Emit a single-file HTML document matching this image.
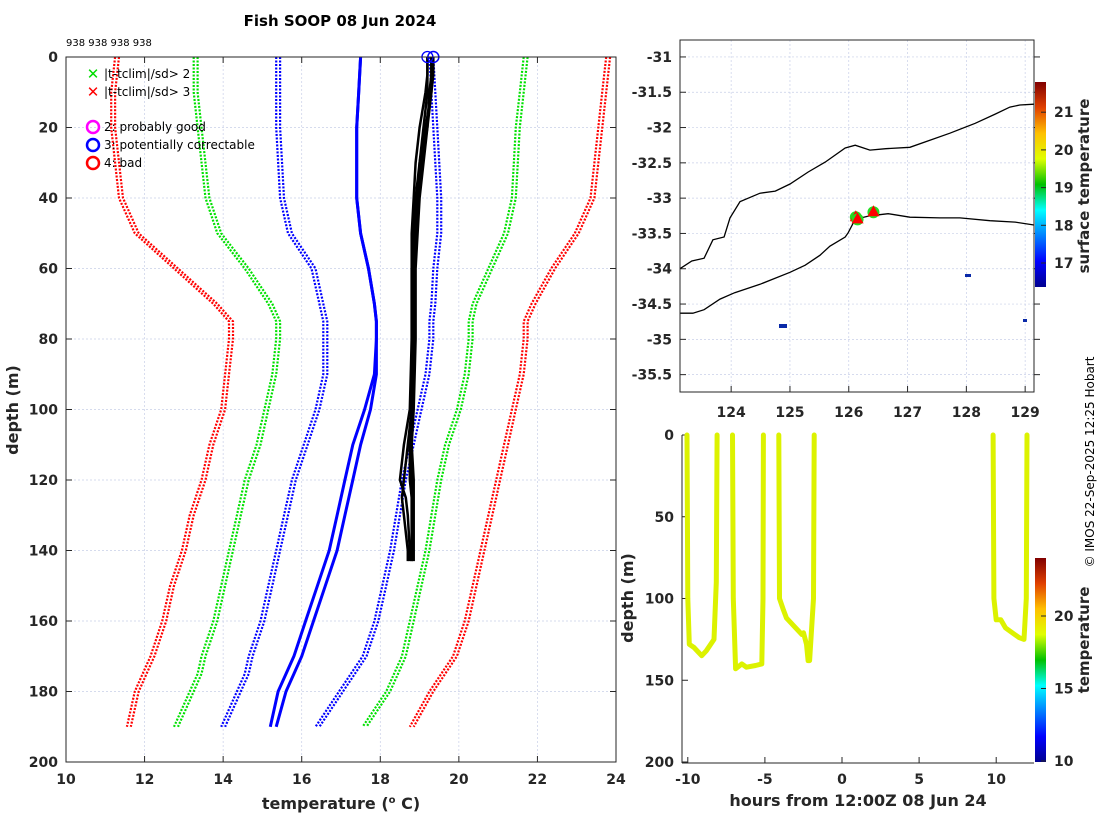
<!DOCTYPE html>
<html><head><meta charset="utf-8">
<style>
html,body{margin:0;padding:0;background:#fff;}
svg{display:block;font-family:"DejaVu Sans","Liberation Sans",sans-serif;}
.tk{font-size:14px;font-weight:bold;fill:#262626;}
.grid{stroke:#c8cfe8;stroke-width:0.7;stroke-dasharray:2,2;}
</style></head>
<body>
<svg id="s" width="1100" height="820" xmlns="http://www.w3.org/2000/svg">
<defs>
<linearGradient id="jet" x1="0" y1="1" x2="0" y2="0">
<stop offset="0" stop-color="#00008f"/><stop offset="0.125" stop-color="#0000ff"/><stop offset="0.375" stop-color="#00ffff"/><stop offset="0.5" stop-color="#00c000"/><stop offset="0.625" stop-color="#e0ff00"/><stop offset="0.75" stop-color="#ffc000"/><stop offset="0.875" stop-color="#e04000"/><stop offset="1" stop-color="#800000"/>
</linearGradient>
</defs>
<text x="340" y="26" text-anchor="middle" font-size="15" font-weight="bold" fill="#000">Fish SOOP 08 Jun 2024</text>
<text x="66" y="46" font-size="10" fill="#000">938 938 938 938</text>
<g id="left"></g>
<g id="map"></g>
<g id="time"></g>
<text transform="translate(1094,462) rotate(-90)" text-anchor="middle" font-size="12" fill="#000">© IMOS 22-Sep-2025 12:25 Hobart</text>
</svg>
<script>
// ---- profile plot data ----
const tempTicks=[10,12,14,16,18,20,22,24];
const depthTicks=[0,20,40,60,80,100,120,140,160,180,200];
const climDepths=[0,10,20,40,50,60,70,75,80,90,100,110,120,130,140,150,160,170,175,180,190];
const redLeft=[11.3,11.2,11.2,11.4,11.8,12.8,13.8,14.2,14.2,14.1,14.0,13.7,13.5,13.2,13.0,12.7,12.5,12.2,12.0,11.8,11.6];
const greenLeft=[13.3,13.3,13.4,13.6,13.9,14.6,15.2,15.4,15.4,15.3,15.1,14.9,14.6,14.4,14.2,14.0,13.8,13.5,13.4,13.2,12.8];
const blueLeft=[15.4,15.4,15.4,15.5,15.7,16.3,16.5,16.6,16.6,16.6,16.4,16.1,15.8,15.6,15.4,15.2,15.0,14.7,14.6,14.4,14.0];
const blueMeanA=[17.5,17.45,17.4,17.4,17.5,17.7,17.85,17.9,17.9,17.85,17.6,17.3,17.1,16.9,16.7,16.4,16.1,15.8,15.6,15.4,15.2];
const blueMeanB=[17.5,17.45,17.4,17.4,17.5,17.7,17.85,17.9,17.9,17.9,17.75,17.5,17.3,17.1,16.9,16.6,16.3,16.0,15.8,15.6,15.35];
const blueRight=[19.3,19.35,19.4,19.5,19.5,19.4,19.35,19.3,19.3,19.2,19.0,18.8,18.6,18.45,18.3,18.1,17.9,17.6,17.3,17.0,16.4];
const greenRight=[21.7,21.6,21.5,21.4,21.2,20.8,20.4,20.3,20.3,20.2,20.0,19.7,19.5,19.35,19.2,19.0,18.8,18.6,18.4,18.2,17.6];
const redRight=[23.8,23.7,23.6,23.4,23.0,22.4,21.9,21.7,21.7,21.6,21.4,21.2,21.0,20.8,20.6,20.4,20.2,19.9,19.6,19.3,18.8];
const obsDepths=[0,5,10,20,30,40,50,60,80,100,110,120,125,130,140,143];
const obs1=[19.2,19.2,19.2,19.1,19.0,18.9,18.85,18.8,18.8,18.8,18.75,18.75,18.8,18.8,18.8,18.8];
const obs2=[19.3,19.3,19.3,19.15,19.0,18.95,18.9,18.85,18.85,18.8,18.8,18.85,18.85,18.85,18.85,18.85];
const obs3=[19.35,19.35,19.3,19.2,19.1,19.0,18.95,18.9,18.9,18.85,18.8,18.8,18.8,18.8,18.8,18.8];
const obs4=[19.2,19.2,19.15,19.0,18.9,18.85,18.8,18.8,18.8,18.75,18.6,18.5,18.65,18.7,18.75,18.75];
const obs5=[19.3,19.3,19.25,19.2,19.05,18.95,18.9,18.85,18.85,18.8,18.7,18.6,18.55,18.6,18.7,18.7];
// ---- map data ----
const lonTicks=[124,125,126,127,128,129];
const latTicks=[-31,-31.5,-32,-32.5,-33,-33.5,-34,-34.5,-35,-35.5];
const upperLon=[123.13,123.33,123.54,123.69,123.88,123.98,124.15,124.49,124.75,125.0,125.31,125.6,125.94,126.11,126.36,126.63,127.04,127.38,127.72,128.15,128.49,128.74,128.91,129.15];
const upperLat=[-34.0,-33.89,-33.85,-33.59,-33.55,-33.28,-33.05,-32.93,-32.9,-32.8,-32.63,-32.49,-32.29,-32.25,-32.32,-32.3,-32.28,-32.18,-32.08,-31.94,-31.81,-31.71,-31.68,-31.67];
const lowerLon=[123.13,123.35,123.54,123.81,124.06,124.49,125.0,125.26,125.51,125.68,125.94,125.99,126.11,126.36,126.67,127.04,127.55,127.89,128.4,128.83,129.15];
const lowerLat=[-34.63,-34.63,-34.58,-34.43,-34.34,-34.22,-34.05,-33.95,-33.81,-33.68,-33.55,-33.49,-33.3,-33.25,-33.22,-33.27,-33.28,-33.28,-33.32,-33.34,-33.38];
const dropLon=[126.12,126.15,126.42];
const dropLat=[-33.27,-33.3,-33.2];
const cbMapTicks=[17,18,19,20,21];
// ---- time-depth data ----
const hourTicks=[-10,-5,0,5,10];
const tdTicks=[0,50,100,150,200];
const castHours=[
 [-10.05,-10.0,-9.9,-9.6,-9.1,-8.8,-8.3,-8.15,-8.1],
 [-7.1,-7.05,-6.9,-6.5,-6.2,-5.6,-5.2,-5.12,-5.1],
 [-4.1,-4.05,-3.8,-3.6,-3.0,-2.6,-2.5,-2.3,-2.2,-2.1,-1.85,-1.8],
 [9.8,9.85,10.0,10.3,10.6,11.2,11.5,11.8,11.95,12.0]];
const castDepths=[
 [0,100,128,130,135,132,125,90,0],
 [0,100,143,140,142,141,140,100,0],
 [0,100,107,112,118,122,121,128,138,138,100,0],
 [0,100,113,113,118,122,124,125,100,0]];
const cbTimeTicks=[10,15,20];

const NS='http://www.w3.org/2000/svg';
function mk(parent,tag,attrs){const e=document.createElementNS(NS,tag);for(const k in attrs)e.setAttribute(k,attrs[k]);parent.appendChild(e);return e;}
function txt(parent,x,y,s,anchor,cls){const t=mk(parent,'text',{x:x,y:y,'text-anchor':anchor||'middle','class':cls||'tk'});t.textContent=s;return t;}

// ===== Left profile plot =====
const L=document.getElementById('left');
const lx=t=>66+(t-10)*550/14, ly=d=>57+d*705/200;
tempTicks.forEach(t=>{
 if(t>10&&t<24){const g=mk(L,'line',{x1:lx(t),x2:lx(t),y1:57,y2:762,'class':'grid'});}
 const tl=txt(L,lx(t),784,t);
 mk(L,'line',{x1:lx(t),x2:lx(t),y1:762,y2:756,stroke:'#262626'});mk(L,'line',{x1:lx(t),x2:lx(t),y1:57,y2:63,stroke:'#262626'});
});
depthTicks.forEach(d=>{
 if(d>0&&d<200){const g=mk(L,'line',{x1:66,x2:616,y1:ly(d),y2:ly(d),'class':'grid'});}
 const tl=txt(L,58,ly(d)+5,d,'end');
 mk(L,'line',{x1:66,x2:72,y1:ly(d),y2:ly(d),stroke:'#262626'});mk(L,'line',{x1:616,x2:610,y1:ly(d),y2:ly(d),stroke:'#262626'});
});
function pline(g,ts,ds,stroke,w,dash,name){
 const p=ts.map((t,i)=>lx(t).toFixed(1)+','+ly(ds[i]).toFixed(1)).join(' ');
 const e=mk(g,'polyline',{points:p,fill:'none',stroke:stroke,'stroke-width':w,'stroke-linejoin':'round'});
 if(dash)e.setAttribute('stroke-dasharray',dash);
 
 
 return e;
}
[[redLeft,'#ff0000','clim-minus-3sd'],[redRight,'#ff0000','clim-plus-3sd'],[greenLeft,'#00e000','clim-minus-2sd'],[greenRight,'#00e000','clim-plus-2sd'],[blueLeft,'#0000ff','clim-minus-1sd'],[blueRight,'#0000ff','clim-plus-1sd']].forEach(a=>{
 pline(L,a[0].map(v=>v-0.05),climDepths,a[1],2.2,'2,1.5',a[2]);
 pline(L,a[0].map(v=>v+0.05),climDepths,a[1],2.2,'2,1.5',a[2]);
});
pline(L,blueMeanA,climDepths,'#0000ff',3,null,'clim-mean-a');
pline(L,blueMeanB,climDepths,'#0000ff',3,null,'clim-mean-b');
[obs1,obs2,obs3,obs4,obs5].forEach(o=>pline(L,o,obsDepths,'#000',2.5,null,'observed-profile'));
const c1=mk(L,'circle',{cx:lx(obs1[0]),cy:57,r:5.5,fill:'none',stroke:'#0000ff','stroke-width':1.3});

const c2=mk(L,'circle',{cx:lx(obs3[0]),cy:57,r:5.5,fill:'none',stroke:'#0000ff','stroke-width':1.5});

mk(L,'rect',{x:66,y:57,width:550,height:705,fill:'none',stroke:'#262626','stroke-width':1});
// legend
const lg=mk(L,'g',{});
const leg=[['x','#00dd00','|t-tclim|/sd> 2',74],['x','#ff0000','|t-tclim|/sd> 3',92],['o','#ff00ff','2: probably good',127],['o','#0000ff','3: potentially correctable',145],['o','#ff0000','4: bad',163]];
leg.forEach(e=>{
 if(e[0]=='x'){const t=mk(lg,'text',{x:93,y:e[3]+5,'text-anchor':'middle','font-size':15,'font-weight':'bold',fill:e[1]});t.textContent='✕';}
 else mk(lg,'circle',{cx:93,cy:e[3],r:6,fill:'none',stroke:e[1],'stroke-width':2.5});
 const t=mk(lg,'text',{x:104,y:e[3]+4,'font-size':12,fill:'#000'});t.textContent=e[2];
 
});
const xt=mk(L,'text',{x:341,y:809,'text-anchor':'middle','font-size':16,'font-weight':'bold',fill:'#262626'});
xt.innerHTML='temperature (<tspan font-size="10" dy="-6">o</tspan><tspan dy="6"> C)</tspan>';

const yt=mk(L,'text',{transform:'translate(18,410) rotate(-90)','text-anchor':'middle','font-size':16,'font-weight':'bold',fill:'#262626'});yt.textContent='depth (m)';


// ===== Map =====
const M=document.getElementById('map');
const mx=lo=>680+(lo-123.13)*58.8, my=la=>40+(-30.76-la)*70.6;
lonTicks.forEach(v=>{
 const g=mk(M,'line',{x1:mx(v),x2:mx(v),y1:40,y2:392,'class':'grid'});
 const t=txt(M,mx(v),417,v);
 mk(M,'line',{x1:mx(v),x2:mx(v),y1:392,y2:386,stroke:'#262626'});
});
latTicks.forEach(v=>{
 const g=mk(M,'line',{x1:680,x2:1034,y1:my(v),y2:my(v),'class':'grid'});
 const t=txt(M,672,my(v)+5,v,'end');
 mk(M,'line',{x1:680,x2:686,y1:my(v),y2:my(v),stroke:'#262626'});mk(M,'line',{x1:1034,x2:1040,y1:my(v),y2:my(v),stroke:'#262626'});
});
function mline(los,las,name){const e=mk(M,'polyline',{points:los.map((l,i)=>mx(l).toFixed(1)+','+my(las[i]).toFixed(1)).join(' '),fill:'none',stroke:'#000','stroke-width':1.3});}
mline(upperLon,upperLat,'coast-contour-upper');
mline(lowerLon,lowerLat,'coast-contour-lower');
[[779,324,8,4],[965,274,6,3],[1023,319,4,3]].forEach(r=>{const e=mk(M,'rect',{x:r[0],y:r[1],width:r[2],height:r[3],fill:'#0a2aa8'});});
dropLon.forEach((lo,i)=>{
 const x=mx(lo),y=my(dropLat[i]);
 mk(M,'circle',{cx:x,cy:y,r:6,fill:'#22dd22'});
 const tr=mk(M,'polygon',{points:`${x},${y-7} ${x-6},${y+4} ${x+6},${y+4}`,fill:'#ff0000'});
 
});
mk(M,'rect',{x:680,y:40,width:354,height:352,fill:'none',stroke:'#262626','stroke-width':1});
const cb1=mk(M,'rect',{x:1035,y:82,width:11,height:205,fill:'url(#jet)'});
const cbm=v=>263-(v-17)*37.7;
cbMapTicks.forEach(v=>{const t=txt(M,1054,cbm(v)+5,v,'start');mk(M,'line',{x1:1041,x2:1046,y1:cbm(v),y2:cbm(v),stroke:'#262626'});});
const ct=mk(M,'text',{transform:'translate(1089,186) rotate(-90)','text-anchor':'middle','font-size':15,'font-weight':'bold',fill:'#262626'});ct.textContent='surface temperature';


// ===== Time-depth =====
const T=document.getElementById('time');
const tx=h=>842+h*15.42, ty=d=>435+d*327/200;
hourTicks.forEach(h=>{const t=txt(T,tx(h),784,h);mk(T,'line',{x1:tx(h),x2:tx(h),y1:763,y2:757,stroke:'#262626'});});
tdTicks.forEach(d=>{const t=txt(T,674,ty(d)+5,d,'end');mk(T,'line',{x1:682,x2:688,y1:ty(d),y2:ty(d),stroke:'#262626'});});
castHours.forEach((hs,k)=>{
 const e=mk(T,'polyline',{points:hs.map((h,i)=>tx(h).toFixed(1)+','+ty(castDepths[k][i]).toFixed(1)).join(' '),fill:'none',stroke:'#dcf200','stroke-width':5,'stroke-linejoin':'round','stroke-linecap':'round'});
 
 
});
mk(T,'line',{x1:682,x2:682,y1:435,y2:763,stroke:'#262626'});
mk(T,'line',{x1:682,x2:1034,y1:763,y2:763,stroke:'#262626'});
const cb2=mk(T,'rect',{x:1035,y:558,width:11,height:204,fill:'url(#jet)'});
const cbt=v=>761-(v-10)*14.5;
cbTimeTicks.forEach(v=>{const t=txt(T,1054,cbt(v)+5,v,'start');mk(T,'line',{x1:1041,x2:1046,y1:cbt(v),y2:cbt(v),stroke:'#262626'});});
const ct2=mk(T,'text',{transform:'translate(1089,640) rotate(-90)','text-anchor':'middle','font-size':15,'font-weight':'bold',fill:'#262626'});ct2.textContent='temperature';

const ht=mk(T,'text',{x:858,y:806,'text-anchor':'middle','font-size':16,'font-weight':'bold',fill:'#262626'});ht.textContent='hours from 12:00Z 08 Jun 24';

const dt=mk(T,'text',{transform:'translate(633,598) rotate(-90)','text-anchor':'middle','font-size':16,'font-weight':'bold',fill:'#262626'});dt.textContent='depth (m)';

</script>
</body></html>
